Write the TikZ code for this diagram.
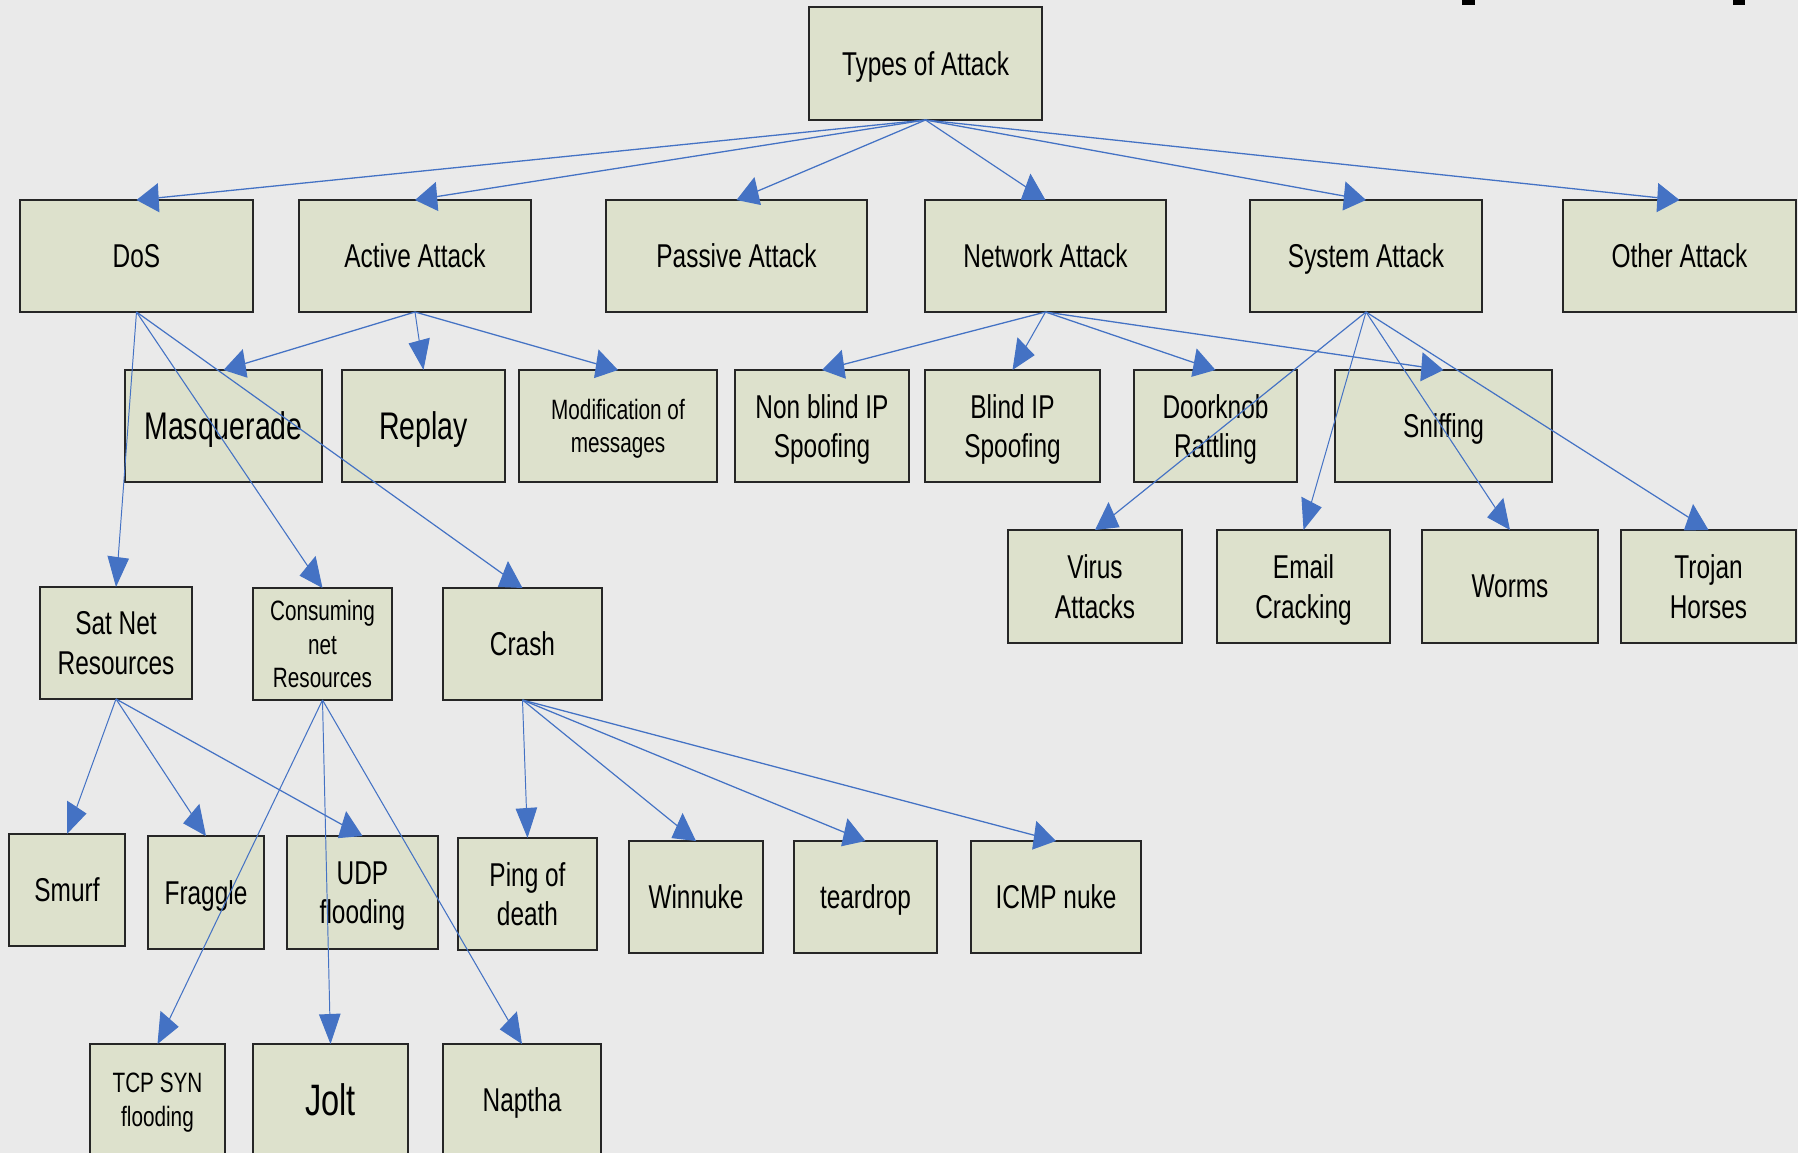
\documentclass[tikz,border=0pt]{standalone}
\usepackage{fontspec}
\setmainfont{Liberation Sans}
\usetikzlibrary{arrows.meta}

\definecolor{pagebg}{HTML}{EAEAEA}
\definecolor{cellfill}{HTML}{DDE1CC}
\definecolor{cellline}{HTML}{262626}
\definecolor{linkblue}{HTML}{4472C4}

\tikzset{
  cell/.style={draw=cellline, line width=1.8pt, fill=cellfill,
    inner sep=0pt, outer sep=0pt, align=center, text=black,
    text depth=0pt,
    font=\fontsize{33}{39.5}\selectfont},
  big/.style={font=\fontsize{38.5}{45}\selectfont},
  small/.style={font=\fontsize{28}{33.6}\selectfont},
  huge/.style={font=\fontsize{44}{52}\selectfont},
  link/.style={draw=linkblue, line width=1.3pt,
    -{Triangle[length=30pt,width=29pt]}}
}

% \cellbox[extra style]{name}{x1}{y1}{x2}{y2}{text}: box given by its corners
\newcommand{\cellbox}[7][]{%
  \node[cell,#1,
        minimum width={(#5-#3)*1.35135pt},
        minimum height={(#6-#4)*1pt}]
    (#2) at ({(#3+#5)/2},{(#4+#6)/2}) {#7};}

\begin{document}
\begin{tikzpicture}[x=1pt,y=-1pt]
\useasboundingbox (0,0) rectangle (1798,1153);
\clip (0,0) rectangle (1798,1153);
\fill[pagebg] (0,0) rectangle (1798,1153);
\fill[black] (1462,0) rectangle (1475,5);
\fill[black] (1733,0) rectangle (1745,5);

% the chart is set in a horizontally condensed frame
\begin{scope}[transform canvas={xscale=0.74}, x=1.35135pt]
  \cellbox{root}{809}{7}{1042}{120}{Types of Attack}

  \cellbox{dos}{20}{200}{253}{312}{DoS}
  \cellbox{active}{299}{200}{531}{312}{Active Attack}
  \cellbox{passive}{606}{200}{867}{312}{Passive Attack}
  \cellbox{network}{925}{200}{1166}{312}{Network Attack}
  \cellbox{system}{1250}{200}{1482}{312}{System Attack}
  \cellbox{other}{1563}{200}{1796}{312}{Other Attack}

  \cellbox[big]{masq}{125}{370}{322}{482}{Masquerade}
  \cellbox[big]{replay}{342}{370}{505}{482}{Replay}
  \cellbox[small]{modif}{519}{370}{717}{482}{Modification of\\messages}
  \cellbox{nonblind}{735}{370}{909}{482}{Non blind IP\\Spoofing}
  \cellbox{blind}{925}{370}{1100}{482}{Blind IP\\Spoofing}
  \cellbox{door}{1134}{370}{1297}{482}{Doorknob\\Rattling}
  \cellbox{sniff}{1335}{370}{1552}{482}{Sniffing}

  \cellbox{virus}{1008}{530}{1182}{643}{Virus\\Attacks}
  \cellbox{email}{1217}{530}{1390}{643}{Email\\Cracking}
  \cellbox{worms}{1422}{530}{1598}{643}{Worms}
  \cellbox{trojan}{1621}{530}{1796}{643}{Trojan\\Horses}

  \cellbox{satnet}{40}{587}{192}{699}{Sat Net\\Resources}
  \cellbox[small]{consum}{253}{588}{392}{700}{Consuming\\net\\Resources}
  \cellbox{crash}{443}{588}{602}{700}{Crash}

  \cellbox{smurf}{9}{834}{125}{946}{Smurf}
  \cellbox{fraggle}{148}{836}{264}{949}{Fraggle}
  \cellbox{udp}{287}{836}{438}{949}{UDP\\flooding}
  \cellbox{ping}{458}{838}{597}{950}{Ping of\\death}
  \cellbox{winnuke}{629}{841}{763}{953}{Winnuke}
  \cellbox{teardrop}{794}{841}{937}{953}{teardrop}
  \cellbox{icmp}{971}{841}{1141}{953}{ICMP nuke}

  \cellbox[small]{tcp}{90}{1044}{225}{1156}{TCP SYN\\flooding}
  \cellbox[huge]{jolt}{253}{1044}{408}{1156}{Jolt}
  \cellbox{naptha}{443}{1044}{601}{1156}{Naptha}

  % connectors, drawn over the boxes
  \foreach \child in {dos,active,passive,network,system,other}
    \draw[link] (root.south) -- (\child.north);
  \foreach \child in {satnet,consum,crash}
    \draw[link] (dos.south) -- (\child.north);
  \foreach \child in {masq,replay,modif}
    \draw[link] (active.south) -- (\child.north);
  \foreach \child in {nonblind,blind,door,sniff}
    \draw[link] (network.south) -- (\child.north);
  \foreach \child in {virus,email,worms,trojan}
    \draw[link] (system.south) -- (\child.north);
  \foreach \child in {smurf,fraggle,udp}
    \draw[link] (satnet.south) -- (\child.north);
  \foreach \child in {tcp,jolt,naptha}
    \draw[link] (consum.south) -- (\child.north);
  \foreach \child in {ping,winnuke,teardrop,icmp}
    \draw[link] (crash.south) -- (\child.north);
\end{scope}
\end{tikzpicture}
\end{document}
